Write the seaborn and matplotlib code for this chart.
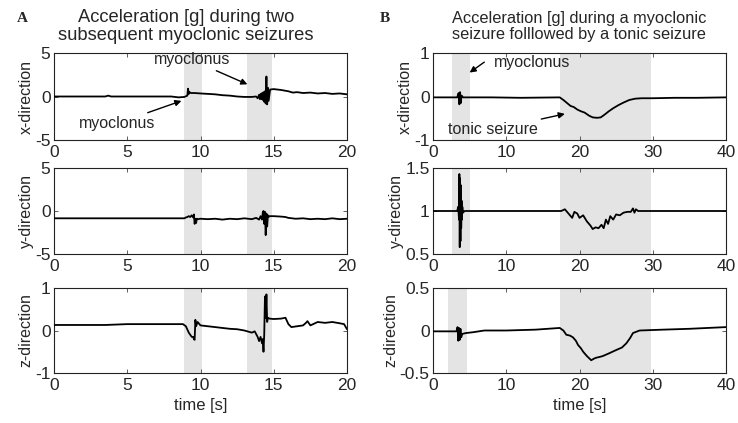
import matplotlib
matplotlib.use("Agg")
import matplotlib.pyplot as plt
import seaborn as sns
import pandas as pd

# ---------------- data ----------------
# Panel A: two subsequent myoclonic seizures (0-20 s)
t_ax = [0, 3.5, 3.7, 3.9, 8.0, 8.5, 8.9, 9.1, 9.15, 9.2, 9.25, 9.35, 9.6, 10.0, 10.5, 11.0,
        11.5, 12.0, 12.5, 13.0, 13.5, 13.8, 13.9, 14.0, 14.05, 14.1, 14.15, 14.2, 14.25, 14.3,
        14.35, 14.4, 14.45, 14.5, 14.55, 14.6, 14.65, 14.75, 15.0, 15.5, 16.0, 16.3, 16.6,
        17.0, 17.5, 18.0, 18.5, 19.0, 19.5, 20.0]
v_ax = [0, 0, 0.1, 0, 0, -0.1, -0.05, 0.1, 0.9, 0.3, 0.5, 0.4, 0.4, 0.35, 0.3, 0.25,
        0.15, 0.1, 0.0, -0.05, -0.05, 0.0, -0.2, 0.2, -0.3, 0.3, -0.3, 0.4, -0.4, 0.5,
        -0.6, 0.6, -0.8, 2.3, -0.9, 1.0, -0.5, 0.8, 0.85, 0.75, 0.6, 0.45, 0.5,
        0.4, 0.45, 0.35, 0.4, 0.3, 0.35, 0.25]

t_ay = [0, 8.9, 9.0, 9.1, 9.2, 9.3, 9.4, 9.5, 9.55, 9.6, 9.65, 9.7, 9.75, 9.8, 10.0, 10.5,
        11, 11.5, 12, 12.5, 13, 13.5, 13.8, 14.0, 14.1, 14.2, 14.25, 14.3, 14.35, 14.4,
        14.45, 14.5, 14.55, 14.6, 14.65, 14.7, 14.8, 15.0, 15.5, 15.8, 16.0, 16.5, 17,
        17.5, 18, 18.5, 19, 19.5, 20]
v_ay = [-0.85, -0.85, -0.75, -0.7, -0.6, -0.7, -0.5, -0.75, -0.4, -1.5, -0.9, -1.4, -0.9,
        -0.95, -0.9, -0.95, -0.9, -1.0, -0.9, -0.95, -0.85, -0.95, -0.8, -1.0, -0.6, -1.0,
        -0.2, 0.0, -1.5, -0.1, -2.8, -0.3, -1.8, -0.5, -0.7, -0.6, -0.6, -0.6, -0.65, -0.7,
        -0.8, -0.9, -0.85, -0.95, -0.9, -0.95, -0.85, -0.95, -0.9]

t_az = [0, 3.5, 5, 8.8, 9.0, 9.2, 9.3, 9.4, 9.5, 9.55, 9.6, 9.65, 9.7, 9.8, 10.0, 10.5,
        11.0, 11.5, 12.0, 12.5, 13.0, 13.5, 13.7, 13.9, 14.0, 14.1, 14.2, 14.25, 14.3,
        14.35, 14.4, 14.45, 14.5, 14.55, 14.6, 14.7, 15.0, 15.5, 15.8, 16.0, 16.2, 16.6,
        17.0, 17.2, 17.3, 17.5, 18.0, 18.5, 19.0, 19.5, 19.8, 20.0]
v_az = [0.13, 0.13, 0.15, 0.15, 0.1, -0.05, -0.1, -0.15, -0.15, -0.2, -0.22, 0.25, 0.1,
        0.2, 0.12, 0.1, 0.08, 0.06, 0.04, 0.03, 0.0, -0.05, -0.02, -0.15, -0.25, -0.15,
        -0.3, -0.2, -0.5, -0.1, 0.8, 0.3, 0.85, 0.2, 0.3, 0.28, 0.27, 0.28, 0.3, 0.15,
        0.08, 0.1, 0.12, 0.18, 0.22, 0.12, 0.2, 0.18, 0.2, 0.17, 0.15, 0.03]

# Panel B: myoclonic seizure followed by a tonic seizure (0-40 s)
t_bx = [0, 3.3, 3.5, 3.6, 3.7, 3.8, 3.9, 4.1, 8, 12, 17.3, 17.8, 18.3, 18.8, 19.2, 19.7,
        20.2, 20.7, 21.3, 21.8, 22.4, 22.9, 23.4, 24.0, 24.6, 25.3, 26.0, 26.8, 27.6, 28.5,
        30, 33, 36, 40]
v_bx = [-0.02, -0.02, 0.08, -0.18, 0.1, -0.15, 0.02, -0.02, -0.02, -0.03, -0.02, -0.08,
        -0.15, -0.22, -0.24, -0.3, -0.34, -0.37, -0.44, -0.48, -0.49, -0.48, -0.42, -0.34,
        -0.27, -0.2, -0.14, -0.08, -0.05, -0.04, -0.04, -0.03, -0.03, -0.02]

t_by = [0, 3.3, 3.45, 3.55, 3.6, 3.65, 3.7, 3.75, 3.8, 3.85, 3.9, 3.95, 4.0, 4.1, 4.3, 10,
        17.5, 18.0, 18.5, 19.0, 19.3, 19.7, 20.0, 20.5, 21.0, 21.5, 21.8, 22.2, 22.6, 23.0,
        23.3, 23.6, 23.9, 24.2, 24.6, 25.0, 25.5, 26.0, 26.5, 27.0, 27.3, 27.5, 27.7, 28.0,
        30, 35, 40]
v_by = [1.0, 1.0, 1.05, 0.9, 1.43, 0.58, 1.38, 0.65, 1.3, 0.8, 1.12, 0.9, 1.05, 0.98, 1.0,
        1.0, 1.0, 1.02, 0.97, 0.92, 0.99, 0.97, 0.92, 0.95, 0.88, 0.83, 0.79, 0.81, 0.8,
        0.84, 0.8, 0.9, 0.85, 0.94, 0.9, 0.96, 0.95, 0.98, 0.99, 0.99, 1.03, 0.98, 1.02,
        1.0, 1.0, 1.0, 1.0]

t_bz = [0, 3.2, 3.35, 3.45, 3.55, 3.65, 3.75, 3.85, 4.0, 4.5, 5.5, 7, 10, 14, 17.3, 17.8,
        18.2, 18.7, 19.1, 19.5, 19.8, 20.2, 20.5, 21.0, 21.6, 22.0, 22.3, 22.8, 23.2, 24.0,
        25.0, 25.8, 26.4, 26.9, 27.3, 28.2, 31.4, 35, 40]
v_bz = [-0.01, -0.01, 0.04, -0.12, 0.03, -0.11, 0.02, -0.08, -0.04, -0.03, -0.02, 0.0, 0.0,
        0.01, 0.03, 0.0, -0.05, -0.06, -0.08, -0.12, -0.17, -0.21, -0.25, -0.3, -0.35,
        -0.33, -0.32, -0.31, -0.3, -0.27, -0.23, -0.2, -0.15, -0.09, -0.03, 0.0, 0.01,
        0.02, 0.04]

# shaded seizure intervals [s]
spans_a = [(8.9, 10.1), (13.2, 14.9)]
spans_bx = [(2.6, 5.0), (17.3, 29.8)]
spans_by = [(2.6, 5.0), (17.3, 29.8)]
spans_bz = [(2.1, 4.6), (17.3, 29.8)]

xticks_a = [0, 5, 10, 15, 20]
xticks_b = [0, 10, 20, 30, 40]
yticks_a_xy = [-5, 0, 5]
yticks_a_z = [-1, 0, 1]
yticks_bx = [-1, 0, 1]
yticks_by = [0.5, 1, 1.5]
yticks_bz = [-0.5, 0, 0.5]
ylabels = ["x-direction", "y-direction", "z-direction"]

title_a = ["Acceleration [g] during two", "subsequent myoclonic seizures"]
title_b = ["Acceleration [g] during a myoclonic", "seizure folllowed by a tonic seizure"]

# ---------------- style ----------------
sns.set_style("ticks")
plt.rcParams['font.family'] = ['Liberation Sans', 'DejaVu Sans']
plt.rcParams['axes.linewidth'] = 0.8
plt.rcParams['axes.edgecolor'] = '#222222'

W, H = 738, 423
fig = plt.figure(figsize=(W / 100, H / 100), dpi=100)

def rect(l, t, r, b):
    return [l / W, 1 - b / H, (r - l) / W, (b - t) / H]

rows = [(53, 140), (168, 254), (288, 373)]
colA = (54, 347)
colB = (433, 726)

def fmt(v):
    return str(int(v)) if float(v).is_integer() else str(v)

panels = [
    (colA, rows[0], t_ax, v_ax, spans_a, (0, 20), (-5, 5), xticks_a, yticks_a_xy),
    (colA, rows[1], t_ay, v_ay, spans_a, (0, 20), (-5, 5), xticks_a, yticks_a_xy),
    (colA, rows[2], t_az, v_az, spans_a, (0, 20), (-1, 1), xticks_a, yticks_a_z),
    (colB, rows[0], t_bx, v_bx, spans_bx, (0, 40), (-1, 1), xticks_b, yticks_bx),
    (colB, rows[1], t_by, v_by, spans_by, (0, 40), (0.5, 1.5), xticks_b, yticks_by),
    (colB, rows[2], t_bz, v_bz, spans_bz, (0, 40), (-0.5, 0.5), xticks_b, yticks_bz),
]

axes = []
for i, (col, row, t, v, spans, xl, yl, xt, yt) in enumerate(panels):
    ax = fig.add_axes(rect(col[0], row[0], col[1], row[1]))
    for s0, s1 in spans:
        ax.axvspan(s0, s1, color='#e4e4e4', lw=0, zorder=0)
    df = pd.DataFrame({"t": t, "v": v})
    sns.lineplot(data=df, x="t", y="v", ax=ax, color='black', linewidth=1.3,
                 estimator=None, sort=False, zorder=3)
    ax.set_xlim(*xl)
    ax.set_ylim(*yl)
    ax.set_xticks(xt)
    ax.set_xticklabels([fmt(x) for x in xt])
    ax.set_yticks(yt)
    ax.set_yticklabels([fmt(y) for y in yt])
    ax.tick_params(direction='in', top=True, right=True, length=3, width=0.6,
                   labelsize=12.5, color='#444444')
    ax.tick_params(axis='x', pad=3.5)
    ax.tick_params(axis='y', pad=2.5)
    ax.set_ylabel(ylabels[i % 3], fontsize=11.5, labelpad=1)
    ax.set_xlabel("time [s]" if i % 3 == 2 else "", fontsize=12, labelpad=4)
    for sp in ax.spines.values():
        sp.set_visible(True)
    axes.append(ax)

# titles and panel letters
fig.text(186 / W, 1 - 18 / H, title_a[0], ha='center', va='center', fontsize=13.2)
fig.text(186 / W, 1 - 35 / H, title_a[1], ha='center', va='center', fontsize=13.2)
fig.text(579 / W, 1 - 18 / H, title_b[0], ha='center', va='center', fontsize=11.8)
fig.text(579 / W, 1 - 35 / H, title_b[1], ha='center', va='center', fontsize=11.8)
fig.text(17 / W, 1 - 18 / H, "A", ha='left', va='center', fontsize=11,
         fontweight='bold', family='Liberation Serif')
fig.text(380 / W, 1 - 18 / H, "B", ha='left', va='center', fontsize=11,
         fontweight='bold', family='Liberation Serif')

arrow = dict(arrowstyle='-|>', color='black', lw=1.0, mutation_scale=9,
             shrinkA=0, shrinkB=0)
ax = axes[0]
ax.annotate("myoclonus", xy=(13.2, 1.4), xytext=(9.4, 4.2), ha='center', va='center',
            fontsize=11.5, arrowprops=arrow)
ax.annotate("myoclonus", xy=(8.7, -0.5), xytext=(4.3, -3.1), ha='center', va='center',
            fontsize=11.5, arrowprops=arrow)
ax = axes[3]
ax.annotate("", xy=(5.0, 0.55), xytext=(7.0, 0.79), arrowprops=arrow)
ax.text(13.5, 0.79, "myoclonus", ha='center', va='center', fontsize=11.5)
ax.annotate("tonic seizure", xy=(18.0, -0.40), xytext=(8.2, -0.76), ha='center',
            va='center', fontsize=11.5, arrowprops=arrow)

fig.savefig("out.png", dpi=100)
